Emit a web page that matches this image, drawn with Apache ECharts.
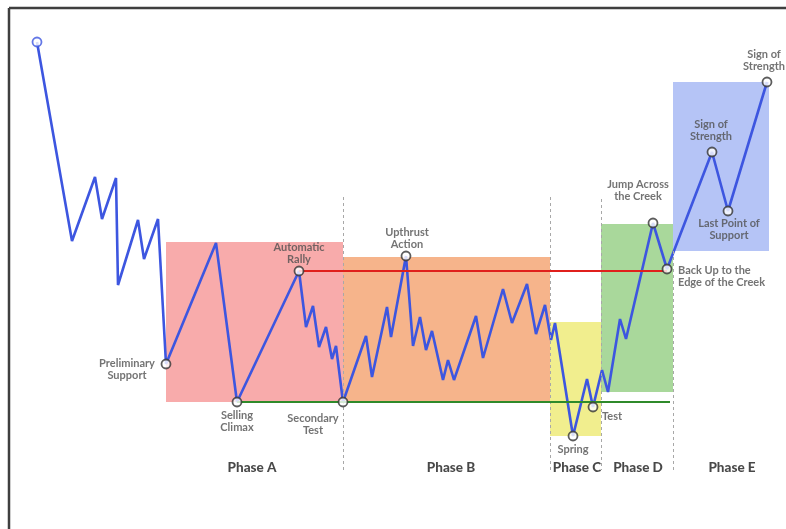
<!DOCTYPE html>
<html>
<head>
<meta charset="utf-8">
<script src="https://cdn.jsdelivr.net/npm/echarts@6/dist/echarts.min.js"></script>
<style>
html,body{margin:0;padding:0;background:#fff;}
#c{width:786px;height:529px;}
</style>
</head>
<body>
<div id="c"></div>
<script>
// Price path (time, price)
var pathTime  = [37, 72, 95, 102, 116, 118, 138, 144, 158, 166, 216, 237, 299, 306, 313, 319, 326, 332, 336, 343, 366, 372, 387, 391, 406, 413, 420, 426, 432, 443, 448, 454, 476, 483, 503, 512, 527, 536, 545, 551, 555, 573, 587, 593, 602, 608, 620, 626, 653, 667, 712, 728, 767];
var pathPrice = [487, 288, 352, 310, 351, 244, 309, 270, 310, 165, 286, 127, 258, 202, 223, 182, 202, 170, 183, 127, 193, 152, 222, 192, 273, 183, 212, 179, 198, 149, 169, 149, 213, 171, 240, 206, 245, 195, 224, 189, 206, 93, 150, 122, 159, 137, 210, 190, 306, 260, 377, 318, 447];

// Key events (index into path) and their names
var eventIndex = [0, 9, 11, 12, 19, 24, 41, 43, 48, 49, 50, 51, 52];
var eventNames = ['', 'Preliminary\nSupport', 'Selling\nClimax', 'Automatic\nRally', 'Secondary\nTest', 'Upthrust\nAction', 'Spring', 'Test', 'Jump Across\nthe Creek', 'Back Up to the\nEdge of the Creek', 'Sign of\nStrength', 'Last Point of\nSupport', 'Sign of\nStrength'];

// Phases: time range and price range
var phaseNames = ['Phase A', 'Phase B', 'Phase C', 'Phase D', 'Phase E'];
var phaseStart = [166, 343, 550, 601, 673];
var phaseEnd   = [343, 550, 601, 673, 769];
var phaseLow   = [127, 127, 93, 137, 278];
var phaseHigh  = [287, 272, 207, 305, 447];
var phaseLabelTime = [252, 451, 577, 638, 732];
var phaseLabelPrice = 61;

// Creek (resistance) and support levels
var creekPrice = 258, creekFrom = 299, creekTo = 667;
var supportPrice = 127, supportFrom = 237, supportTo = 670;

// Phase dividers
var dividerTime = [343, 550, 601, 673];
var dividerTop  = [332, 332, 330, 278];
var dividerBottom = 59;

// ---- styles (not data) ----
var phaseColors = ['#f8abab', '#f6b48b', '#f1ee8e', '#a9d89b', '#b5c4f6'];
var labelStyles = [
  null,
  {offset: [-39, 5.5], align: 'center'},
  {offset: [0, 19], align: 'center'},
  {offset: [0, -18], align: 'center'},
  {offset: [-30, 22], align: 'center'},
  {offset: [1, -18], align: 'center'},
  {offset: [0, 13], align: 'center'},
  {offset: [9, 9], align: 'left'},
  {offset: [-15, -33], align: 'center'},
  {offset: [11, 7], align: 'left'},
  {offset: [-1, -22], align: 'center'},
  {offset: [1, 18.5], align: 'center'},
  {offset: [-3, -22], align: 'center'}
];

var lineData = pathTime.map(function (t, i) { return [t, pathPrice[i]]; });

var areas = phaseNames.map(function (n, i) {
  return [
    {xAxis: phaseStart[i], yAxis: phaseHigh[i], itemStyle: {color: phaseColors[i], opacity: 1}},
    {xAxis: phaseEnd[i], yAxis: phaseLow[i]}
  ];
});

var dividers = dividerTime.map(function (t, i) {
  return [{coord: [t, dividerTop[i]]}, {coord: [t, dividerBottom]}];
});

var eventData = eventIndex.map(function (idx, k) {
  var st = labelStyles[k];
  var item = {
    value: [pathTime[idx], pathPrice[idx]],
    name: eventNames[k],
    itemStyle: k === 0 ? {color: '#fff', borderColor: '#3d56e0', borderWidth: 1.8} : {color: '#fff', borderColor: '#333', borderWidth: 1.8}
  };
  if (st) {
    item.label = {
      show: true, position: 'inside', offset: st.offset, align: st.align, verticalAlign: 'middle',
      formatter: eventNames[k]
    };
  }
  return item;
});

var phaseLabelData = phaseNames.map(function (n, i) {
  return {value: [phaseLabelTime[i], phaseLabelPrice], name: n};
});

var chart = echarts.init(document.getElementById('c'), null, {renderer: 'canvas'});
chart.setOption({
  animation: false,
  backgroundColor: '#fff',
  grid: {left: 0, right: 0, top: 0, bottom: 0, containLabel: false},
  xAxis: {type: 'value', min: 0, max: 786, show: false},
  yAxis: {type: 'value', min: 0, max: 529, show: false},
  graphic: [
    {type: 'line', shape: {x1: 9, y1: 8, x2: 786, y2: 8}, style: {stroke: '#3f3f3f', lineWidth: 2.5}, z: 100},
    {type: 'line', shape: {x1: 9, y1: 8, x2: 9, y2: 529}, style: {stroke: '#3f3f3f', lineWidth: 2.5}, z: 100}
  ],
  series: [
    {
      type: 'line', data: [], z: 1, silent: true,
      markArea: {silent: true, data: areas}
    },
    {
      type: 'line', data: [], z: 2, silent: true,
      markLine: {
        silent: true, symbol: ['none', 'none'], label: {show: false},
        lineStyle: {color: '#a8a8a8', type: [3, 3], width: 1},
        data: dividers
      }
    },
    {
      type: 'line', data: [], z: 3, silent: true,
      markLine: {
        silent: true, symbol: ['none', 'none'], label: {show: false},
        data: [
          [{coord: [creekFrom, creekPrice], lineStyle: {color: '#e0201c', width: 2.2, type: 'solid'}}, {coord: [creekTo, creekPrice]}],
          [{coord: [supportFrom, supportPrice], lineStyle: {color: '#2f8a2a', width: 2.2, type: 'solid'}}, {coord: [supportTo, supportPrice]}]
        ]
      }
    },
    {
      type: 'line', data: lineData, z: 4, showSymbol: false, silent: true,
      lineStyle: {color: '#3d56e0', width: 2.6}
    },
    {
      type: 'scatter', data: eventData, z: 5, symbol: 'circle', symbolSize: 9, silent: true,
      label: {
        show: false, color: '#505050', fontFamily: 'Lato', fontWeight: 'bold', fontSize: 11, lineHeight: 12
      }
    },
    {
      type: 'scatter', data: phaseLabelData, z: 5, symbolSize: 0, silent: true,
      label: {
        show: true, position: 'inside', formatter: '{b}', color: '#1a1a1a',
        fontFamily: 'Lato', fontWeight: 900, fontSize: 13.5, align: 'center', verticalAlign: 'middle'
      }
    }
  ]
});
</script>
</body>
</html>
